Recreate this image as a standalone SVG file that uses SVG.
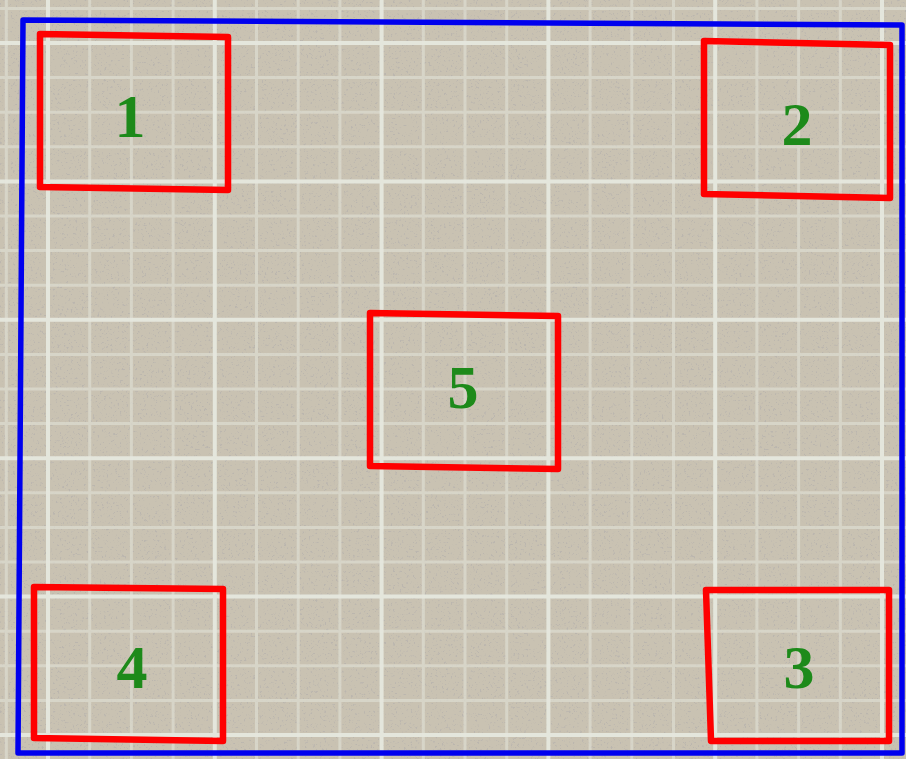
<svg xmlns="http://www.w3.org/2000/svg" width="906" height="759" viewBox="0 0 906 759">
<style>
.minor{stroke:#dcdbcf;stroke-width:3;fill:none;opacity:.75}
.major{stroke:#e6e8de;stroke-width:4;fill:none;opacity:.95}
.box{fill:none;stroke:#ff0000;stroke-width:6.5;stroke-linejoin:round}
.frame{fill:none;stroke:#0000ee;stroke-width:5.5;stroke-linejoin:round}
.lbl{font-family:"Liberation Serif","DejaVu Serif",serif;font-weight:bold;font-size:62px;fill:#1d8a1a;text-anchor:middle}
</style>
<defs>
<filter id="speck" x="0" y="0" width="906" height="759" filterUnits="userSpaceOnUse">
<feTurbulence type="fractalNoise" baseFrequency="0.45" numOctaves="2" seed="7" result="n"/>
<feColorMatrix in="n" type="matrix" values="0 0 0 0 0.45  0 0 0 0 0.43  0 0 0 0 0.42  8 0 0 0 -4.9"/>
</filter>
<filter id="soft"><feGaussianBlur stdDeviation="0.7"/></filter>
</defs>
<rect width="906" height="759" fill="#c9c2b2"/>
<rect width="906" height="759" fill="#000" filter="url(#speck)" opacity="0.6"/>
<g id="grid" filter="url(#soft)">
<path class="minor" d="M6.3 0V759M89.7 0V759M131.4 0V759M173.1 0V759M256.5 0V759M298.2 0V759M339.9 0V759M423.3 0V759M465 0V759M506.7 0V759M590.1 0V759M631.8 0V759M673.5 0V759M756.9 0V759M798.6 0V759M840.3 0V759
M0 8.4H906M0 77.6H906M0 112.2H906M0 146.8H906M0 216H906M0 250.6H906M0 285.2H906M0 354.4H906M0 389H906M0 423.6H906M0 492.8H906M0 527.4H906M0 562H906M0 631.2H906M0 665.8H906M0 700.4H906"/>
<path class="major" d="M48 0V759M214.8 0V759M381.6 0V759M548.4 0V759M715.2 0V759M882 0V759M0 43H906M0 181.4H906M0 319.8H906M0 458.2H906M0 596.6H906M0 735H906"/>
</g>
<g id="frame"><polygon class="frame" points="23,20 902,25 902,753 18,753"/></g>
<g id="connectors"></g>
<g id="node1"><polygon class="box" points="40,34 228,37 228,190 40,187"/><text class="lbl" x="130" y="137">1</text></g>
<g id="node2"><polygon class="box" points="704,41 890,45 890,198 704,194"/><text class="lbl" x="797" y="145">2</text></g>
<g id="node5"><polygon class="box" points="370,313 558,316 558,469 370,466"/><text class="lbl" x="463" y="408">5</text></g>
<g id="node4"><polygon class="box" points="34,587 223,589 223,741 34,738"/><text class="lbl" x="132" y="688">4</text></g>
<g id="node3"><polygon class="box" points="706,590 889,590 889,741 711,741"/><text class="lbl" x="799" y="688">3</text></g>
</svg>
